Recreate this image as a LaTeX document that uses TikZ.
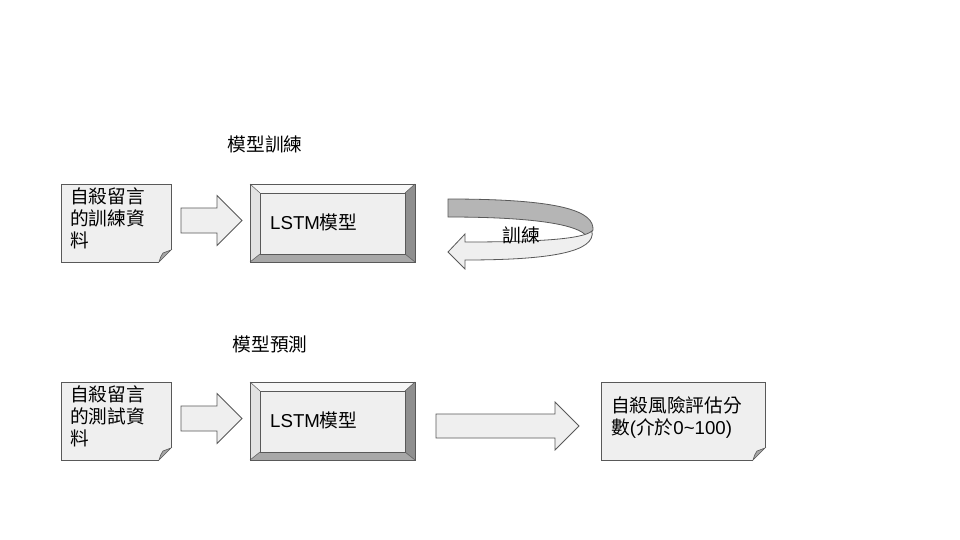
\documentclass[tikz,border=0pt]{standalone}
\usepackage{fontspec}
\setmainfont{Liberation Sans}
\newfontfamily\cjk{Noto Sans CJK TC}
\definecolor{edge}{HTML}{595959}
\definecolor{face}{HTML}{EFEFEF}
\definecolor{bevtop}{HTML}{F7F7F7}
\definecolor{bevleft}{HTML}{E2E2E2}
\definecolor{bevright}{HTML}{8F8F8F}
\definecolor{bevbot}{HTML}{A8A8A8}
\definecolor{ribbon}{HTML}{B5B5B5}
\definecolor{curl}{HTML}{A6A6A6}
\tikzset{
  shapeline/.style={draw=edge, line width=0.8pt, line join=miter},
  blockarrow/.style={shapeline, fill=face},
  txt/.style={inner sep=0pt, font=\fontsize{18.67}{22}\selectfont, text=black},
}
% document shape with a curled bottom-right corner
\newcommand{\docshape}[4]{% x1, y1, x2, y2
  \fill[face] (#1,#2) -- (#3,#2) -- (#3,#4-12) -- (#3-12,#4) -- (#1,#4) -- cycle;
  \fill[curl] (#3,#4-12) .. controls (#3-4,#4-10) .. (#3-8,#4-9)
     .. controls (#3-10,#4-6) .. (#3-12,#4) -- cycle;
  \draw[shapeline] (#3-12,#4) -- (#1,#4) -- (#1,#2) -- (#3,#2) -- (#3,#4-12);
  \draw[edge, line width=0.6pt] (#3,#4-12) .. controls (#3-4,#4-10) .. (#3-8,#4-9)
     .. controls (#3-10,#4-6) .. (#3-12,#4) -- cycle;
}
% bevelled button box
\newcommand{\bevelbox}[4]{% x1, y1, x2, y2
  \fill[bevtop] (#1,#2) -- (#3,#2) -- (#3-10,#2+9) -- (#1+10,#2+9) -- cycle;
  \fill[bevleft] (#1,#2) -- (#1+10,#2+9) -- (#1+10,#4-8) -- (#1,#4) -- cycle;
  \fill[bevright] (#3,#2) -- (#3,#4) -- (#3-10,#4-8) -- (#3-10,#2+9) -- cycle;
  \fill[bevbot] (#1,#4) -- (#3,#4) -- (#3-10,#4-8) -- (#1+10,#4-8) -- cycle;
  \filldraw[fill=face, draw=edge, line width=0.5pt] (#1+10,#2+9) rectangle (#3-10,#4-8);
  \draw[edge, line width=0.5pt] (#1,#2) -- (#1+10,#2+9) (#3,#2) -- (#3-10,#2+9)
     (#1,#4) -- (#1+10,#4-8) (#3,#4) -- (#3-10,#4-8);
  \draw[shapeline] (#1,#2) rectangle (#3,#4);
}
% straight block arrow: shaft x1, head base xb, tip xt, centre y, shaft half, head half
\newcommand{\blockarrow}[6]{%
  \draw[blockarrow] (#1,#4-#5) -- (#2,#4-#5) -- (#2,#4-#6) -- (#3,#4) -- (#2,#4+#6)
     -- (#2,#4+#5) -- (#1,#4+#5) -- cycle;
}
\begin{document}
\begin{tikzpicture}[x=1pt, y=-1pt]
\useasboundingbox (0,0) rectangle (960,540);
\fill[white] (0,0) rectangle (960,540);

% ---------- training row ----------
\node[txt] (trainhead) at (265,144) {\cjk 模型訓練};

\docshape{61}{184}{171}{262}
\node[txt, anchor=north west, align=left] (traindata) at (70,188)
  {\cjk 自殺留言\\\cjk 的訓練資\\\cjk 料};

\blockarrow{181}{217}{242}{220.5}{12.5}{25}

\bevelbox{250}{184}{415}{262}
\node[txt, anchor=base west] (lstmtrain) at (270,229.5) {LSTM{\cjk 模型}};

% looping training arrow
\filldraw[fill=ribbon, draw=edge, line width=0.8pt]
  (448,199) .. controls (565,199) and (594,212) .. (593,230)
  -- (587,237) .. controls (580,224) and (530,217) .. (448,217) -- cycle;
\filldraw[fill=face, draw=edge, line width=0.8pt]
  (465,242) .. controls (540,242) and (583,239) .. (592,231)
  .. controls (596,252) and (550,260) .. (465,260)
  -- (465,269) -- (448,252) -- (465,234) -- cycle;
\node[txt] (loop) at (521,235) {\cjk 訓練};

% ---------- prediction row ----------
\node[txt] (predhead) at (270,344) {\cjk 模型預測};

\docshape{61}{382}{171}{460}
\node[txt, anchor=north west, align=left] (testdata) at (70,386)
  {\cjk 自殺留言\\\cjk 的測試資\\\cjk 料};

\blockarrow{181}{217}{242}{418.5}{12.5}{25}

\bevelbox{250}{382}{415}{460}
\node[txt, anchor=base west] (lstmpred) at (270,427.5) {LSTM{\cjk 模型}};

\blockarrow{436}{555}{579}{426}{12}{24}

\docshape{601}{382}{765}{460}
\node[txt, anchor=north west, align=left] (score) at (611,396.5)
  {\cjk 自殺風險評估分\\{\cjk 數}({\cjk 介於}0\textasciitilde 100)};
\end{tikzpicture}
\end{document}
